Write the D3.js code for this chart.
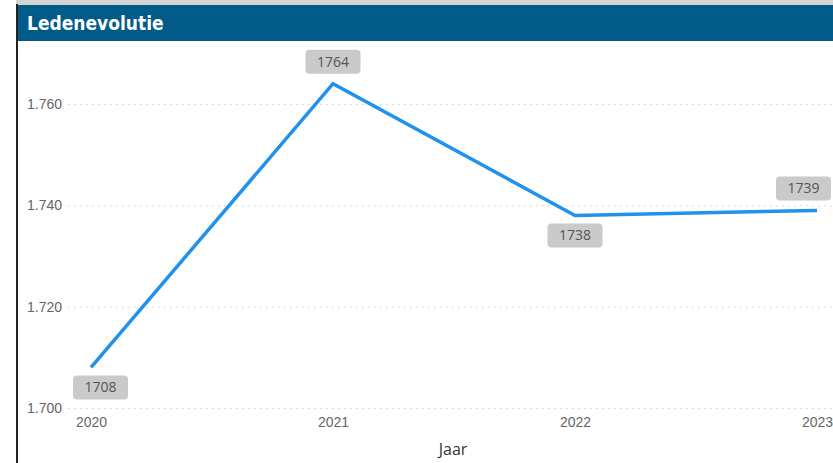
<!DOCTYPE html>
<html>
<head>
<meta charset="utf-8">
<script src="https://cdn.jsdelivr.net/npm/d3@7"></script>
<style>
  body { margin: 0; background: #fff; }
  svg { display: block; font-family: "Segoe UI", "Open Sans", sans-serif; }
</style>
</head>
<body>
<div id="chart"></div>
<script>
// data
const years = ["2020", "2021", "2022", "2023"];
const members = [1708, 1764, 1738, 1739];
const yTicks = [1700, 1720, 1740, 1760];

const width = 833;
const height = 463;

const svg = d3.select("#chart")
    .append("svg")
    .attr("width", width)
    .attr("height", height);

// frame: gray strip on top, black line left, title bar
svg.append("rect")
    .attr("x", 16).attr("y", 0)
    .attr("width", width - 16).attr("height", 6)
    .attr("fill", "#d4d4d4");

svg.append("rect")
    .attr("x", 18).attr("y", 5)
    .attr("width", width - 18).attr("height", 36)
    .attr("fill", "#005b88");

svg.append("line")
    .attr("x1", 17).attr("x2", 17)
    .attr("y1", 4).attr("y2", height)
    .attr("stroke", "#222")
    .attr("stroke-width", 2);

svg.append("text")
    .attr("x", 27)
    .attr("y", 30)
    .attr("fill", "#fff")
    .attr("font-family", "'DejaVu Sans Condensed', 'Roboto', sans-serif")
    .attr("font-weight", "bold")
    .attr("font-size", 19)
    .text("Ledenevolutie");

// scales
const x = d3.scalePoint()
    .domain(years)
    .range([91, 817]);

const y = d3.scaleLinear()
    .domain([1700, 1760])
    .range([408, 104]);

// gridlines + y labels
const yAxis = svg.append("g")
    .attr("transform", "translate(68,0)")
    .call(d3.axisLeft(y)
        .tickValues(yTicks)
        .tickSize(-(width - 68))
        .tickPadding(6)
        .tickFormat(d => d3.format(",")(d).replace(",", ".")));

yAxis.select(".domain").remove();
yAxis.selectAll(".tick line")
    .attr("stroke", "#cfcfcf")
    .attr("stroke-dasharray", "1.5,4.5");
yAxis.selectAll(".tick text")
    .attr("fill", "#666")
    .attr("font-size", 14)
    .attr("x", -41)
    .attr("text-anchor", "start");

// x labels
const xAxis = svg.append("g")
    .attr("transform", "translate(0,414)")
    .call(d3.axisBottom(x).tickSize(0).tickPadding(3));

xAxis.select(".domain").remove();
xAxis.selectAll(".tick text")
    .attr("fill", "#666")
    .attr("font-size", 14);

svg.append("text")
    .attr("x", 453)
    .attr("y", 455)
    .attr("text-anchor", "middle")
    .attr("fill", "#333")
    .attr("font-size", 16)
    .text("Jaar");

// line
const pts = years.map((yr, i) => ({ year: yr, value: members[i] }));

svg.append("path")
    .datum(pts)
    .attr("fill", "none")
    .attr("stroke", "#2191ee")
    .attr("stroke-width", 3.5)
    .attr("stroke-linejoin", "miter")
    .attr("d", d3.line()
        .x(d => x(d.year))
        .y(d => y(d.value)));

// data labels: below for local minimum, above otherwise
const boxW = 55, boxH = 24;
pts.forEach((d, i) => {
    const neigh = [pts[i - 1], pts[i + 1]].filter(Boolean);
    const below = neigh.every(n => d.value < n.value);
    let cx = x(d.year);
    cx = Math.max(73 + boxW / 2, Math.min(width - 2 - boxW / 2, cx));
    const py = y(d.value);
    const cy = below ? py + 8 + boxH / 2 : py - 10 - boxH / 2;

    const g = svg.append("g").attr("transform", `translate(${cx},${cy})`);
    g.append("rect")
        .attr("x", -boxW / 2)
        .attr("y", -boxH / 2)
        .attr("width", boxW)
        .attr("height", boxH)
        .attr("rx", 4)
        .attr("fill", "#cacaca");
    g.append("text")
        .attr("text-anchor", "middle")
        .attr("dy", 5)
        .attr("fill", "#555")
        .attr("font-size", 14)
        .text(d.value);
});
</script>
</body>
</html>
